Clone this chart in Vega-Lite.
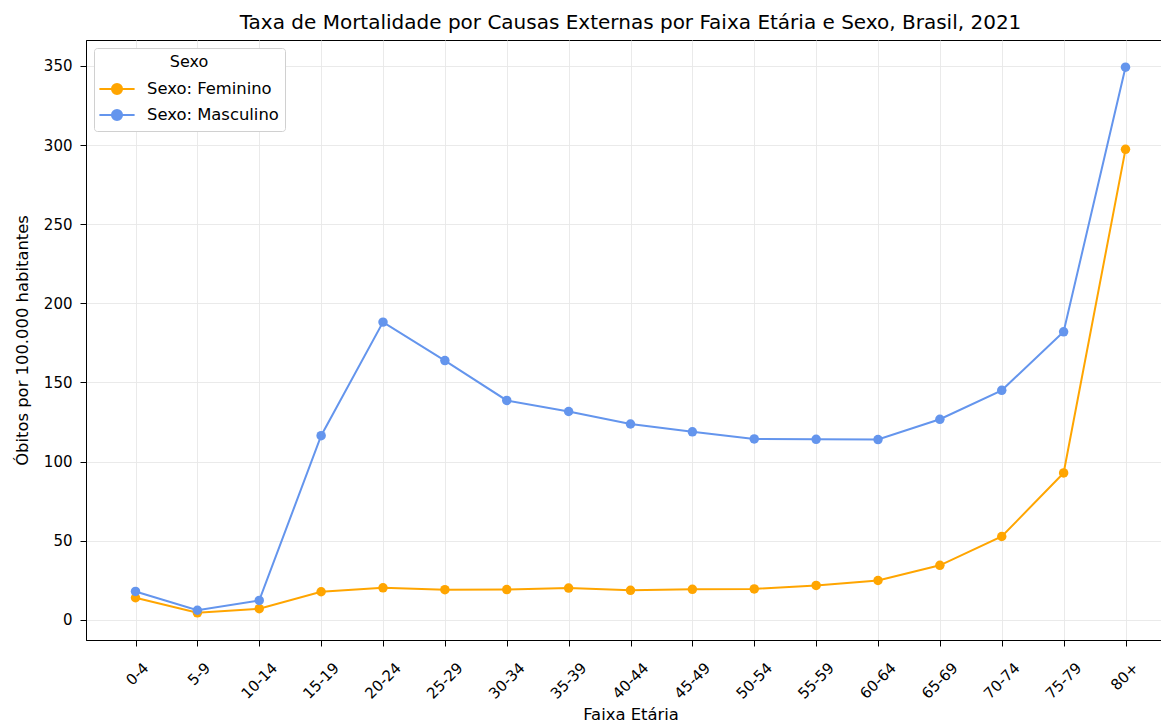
{
  "$schema": "https://vega.github.io/schema/vega-lite/v6.json",
  "width": 1089,
  "height": 600,
  "autosize": "none",
  "padding": {"left": 86, "top": 40, "right": 0, "bottom": 83},
  "background": "white",
  "title": {"text": "Taxa de Mortalidade por Causas Externas por Faixa Etária e Sexo, Brasil, 2021", "font": "DejaVu Sans", "fontSize": 20, "fontWeight": "normal", "color": "black", "offset": 7, "anchor": "middle"},
  "config": {
    "font": "DejaVu Sans",
    "view": {"stroke": "black", "strokeWidth": 1},
    "axis": {"labelFont": "DejaVu Sans", "titleFont": "DejaVu Sans", "labelFontSize": 15, "titleFontSize": 16.4, "titleFontWeight": "normal", "labelColor": "black", "titleColor": "black", "tickColor": "black", "domainColor": "black", "tickSize": 6, "gridColor": "#e8e8e8", "gridWidth": 0.9}
  },
  "data": {"values": [
    {"faixa": "0-4", "sexo": "Sexo: Feminino", "taxa": 13.9},
    {"faixa": "5-9", "sexo": "Sexo: Feminino", "taxa": 4.4},
    {"faixa": "10-14", "sexo": "Sexo: Feminino", "taxa": 7.0},
    {"faixa": "15-19", "sexo": "Sexo: Feminino", "taxa": 17.7},
    {"faixa": "20-24", "sexo": "Sexo: Feminino", "taxa": 20.2},
    {"faixa": "25-29", "sexo": "Sexo: Feminino", "taxa": 19.0},
    {"faixa": "30-34", "sexo": "Sexo: Feminino", "taxa": 19.1},
    {"faixa": "35-39", "sexo": "Sexo: Feminino", "taxa": 20.0},
    {"faixa": "40-44", "sexo": "Sexo: Feminino", "taxa": 18.6},
    {"faixa": "45-49", "sexo": "Sexo: Feminino", "taxa": 19.2},
    {"faixa": "50-54", "sexo": "Sexo: Feminino", "taxa": 19.5},
    {"faixa": "55-59", "sexo": "Sexo: Feminino", "taxa": 21.7},
    {"faixa": "60-64", "sexo": "Sexo: Feminino", "taxa": 24.8},
    {"faixa": "65-69", "sexo": "Sexo: Feminino", "taxa": 34.4},
    {"faixa": "70-74", "sexo": "Sexo: Feminino", "taxa": 52.6},
    {"faixa": "75-79", "sexo": "Sexo: Feminino", "taxa": 92.8},
    {"faixa": "80+", "sexo": "Sexo: Feminino", "taxa": 297.3},
    {"faixa": "0-4", "sexo": "Sexo: Masculino", "taxa": 17.9},
    {"faixa": "5-9", "sexo": "Sexo: Masculino", "taxa": 6.0},
    {"faixa": "10-14", "sexo": "Sexo: Masculino", "taxa": 12.2},
    {"faixa": "15-19", "sexo": "Sexo: Masculino", "taxa": 116.3},
    {"faixa": "20-24", "sexo": "Sexo: Masculino", "taxa": 188.1},
    {"faixa": "25-29", "sexo": "Sexo: Masculino", "taxa": 163.8},
    {"faixa": "30-34", "sexo": "Sexo: Masculino", "taxa": 138.6},
    {"faixa": "35-39", "sexo": "Sexo: Masculino", "taxa": 131.6},
    {"faixa": "40-44", "sexo": "Sexo: Masculino", "taxa": 123.7},
    {"faixa": "45-49", "sexo": "Sexo: Masculino", "taxa": 118.8},
    {"faixa": "50-54", "sexo": "Sexo: Masculino", "taxa": 114.3},
    {"faixa": "55-59", "sexo": "Sexo: Masculino", "taxa": 114.0},
    {"faixa": "60-64", "sexo": "Sexo: Masculino", "taxa": 113.9},
    {"faixa": "65-69", "sexo": "Sexo: Masculino", "taxa": 126.7},
    {"faixa": "70-74", "sexo": "Sexo: Masculino", "taxa": 145.0},
    {"faixa": "75-79", "sexo": "Sexo: Masculino", "taxa": 182.0},
    {"faixa": "80+", "sexo": "Sexo: Masculino", "taxa": 349.2}
  ]},
  "encoding": {
    "x": {"field": "faixa", "type": "ordinal", "sort": null,
      "scale": {"type": "point", "padding": 0.8},
      "axis": {"title": "Faixa Etária", "labelAngle": -45, "labelAlign": "right", "labelBaseline": "top", "grid": true, "titlePadding": 5, "labelPadding": 14,
        "labelOffset": {"condition": {"test": "length(datum.label) <= 3", "value": 5}, "value": 10}}},
    "y": {"field": "taxa", "type": "quantitative",
      "scale": {"domain": [-12.8, 366.4], "nice": false, "zero": false},
      "axis": {"title": "Óbitos por 100.000 habitantes", "values": [0, 50, 100, 150, 200, 250, 300, 350], "grid": true, "titlePadding": 13, "labelPadding": 8}},
    "color": {"field": "sexo", "type": "nominal", "scale": {"domain": ["Sexo: Feminino", "Sexo: Masculino"], "range": ["#FFA500", "#6495ED"]},
      "legend": {"title": "Sexo", "orient": "none", "legendX": 8, "legendY": 8, "titleAnchor": "middle", "titleFontSize": 16, "titleFontWeight": "normal", "titleColor": "black", "labelFontSize": 16.4, "labelColor": "black", "fillColor": "white", "strokeColor": "#d0d0d0", "cornerRadius": 3, "padding": 6, "rowPadding": 4, "titlePadding": 7,
        "symbolType": "M -1.6 0 L 1.6 0 M 0.46 0 A 0.46 0.46 0 1 1 -0.46 0 A 0.46 0.46 0 1 1 0.46 0 Z", "symbolSize": 484, "symbolStrokeWidth": 2, "symbolOffset": 5, "labelOffset": 18, "symbolOpacity": 1}}
  },
  "layer": [
    {
      "mark": {"type": "line", "strokeWidth": 2}
    },
    {
      "mark": {"type": "point", "filled": true, "size": 90, "opacity": 1}
    }
  ]
}
